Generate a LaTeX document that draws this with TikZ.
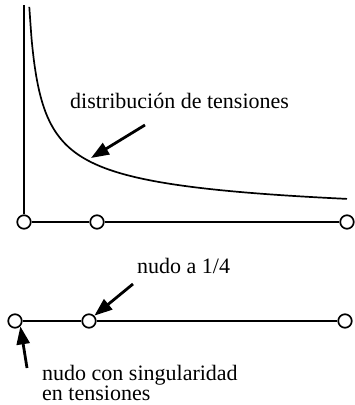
\documentclass[tikz,border=0pt]{standalone}
\usepackage{fontspec}
\setmainfont{Liberation Serif}
\usetikzlibrary{arrows.meta}
\begin{document}
\begin{tikzpicture}[x=1pt,y=-1pt,
  nodo/.style={circle,draw,fill=white,line width=1.7pt,minimum size=13.5pt,inner sep=0pt},
  viga/.style={line width=2.8pt},
  linea/.style={line width=1.7pt},
  flecha/.style={line width=2.8pt,-{Triangle[length=18pt,width=13pt]}},
  rotulo/.style={font=\fontsize{22}{24}\selectfont,inner sep=0pt,anchor=base west}]
\useasboundingbox (0,0) rectangle (355,405);
% upper element
\coordinate (ejetop) at (24,5);
\node[nodo] (a1) at (24,222) {};
\node[nodo] (a2) at (97,222) {};
\node[nodo] (a3) at (347,222) {};
\draw[linea] (ejetop) -- (a1);
\draw[viga] (a1) -- (a2) -- (a3);
\draw[linea] plot[domain=6.3:324,samples=140,smooth] ({23+\x},{230-560/sqrt(\x)});
\node[rotulo] (t1) at (70,108) {distribución de tensiones};
\coordinate (c1) at (145,125);
\coordinate (p1) at (91,158);
\draw[flecha] (c1) -- (p1);
% lower element
\node[nodo] (b1) at (15,321) {};
\node[nodo] (b2) at (89,321) {};
\node[nodo] (b3) at (345,321) {};
\draw[viga] (b1) -- (b2) -- (b3);
\node[rotulo] (t2) at (137,273) {nudo a 1/4};
\coordinate (c2) at (133,284);
\draw[flecha] (c2) -- (b2.north east);
\node[rotulo] (t3) at (42,380) {nudo con singularidad};
\node[rotulo] (t4) at (42,400) {en tensiones};
\coordinate (c3) at (27,368);
\draw[flecha] (c3) -- (b1.south east);
\end{tikzpicture}
\end{document}
